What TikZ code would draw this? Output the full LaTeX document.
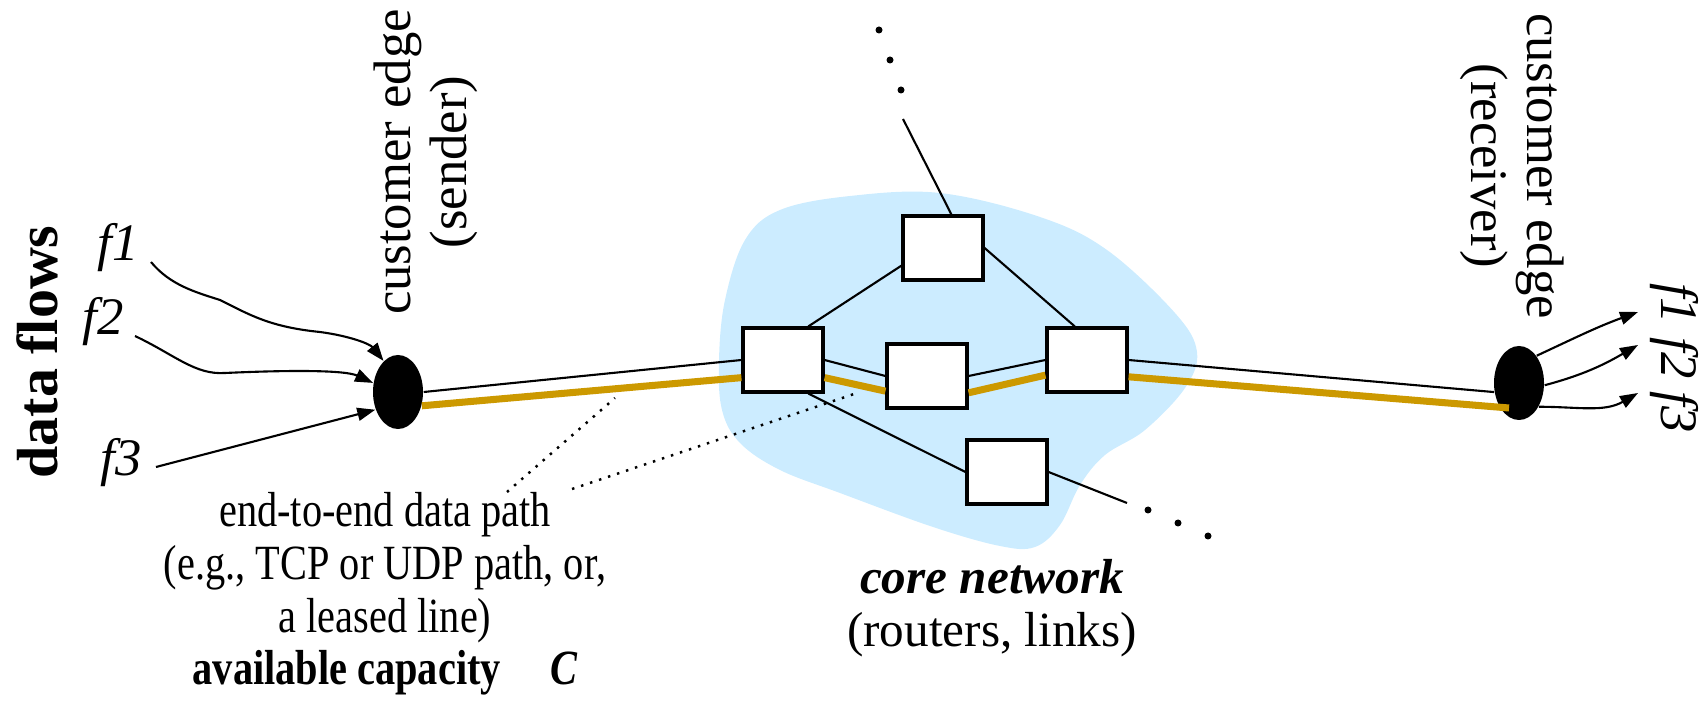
\documentclass[tikz,border=0pt]{standalone}
\usepackage{fontspec}
\setmainfont{Liberation Serif}
\newfontfamily\tallserif{Liberation Serif}[FakeStretch=0.82]
\usepackage{xcolor}
\usetikzlibrary{arrows.meta, shapes.geometric, calc}

\definecolor{coreblue}{RGB}{204,236,255}
\definecolor{pathgold}{RGB}{204,153,0}

\begin{document}
\begin{tikzpicture}[
    router/.style={draw, fill=white, line width=0.9pt, minimum width=0.8cm, minimum height=0.64cm, inner sep=0pt},
    edgenode/.style={ellipse, fill=black, minimum width=0.5cm, minimum height=0.74cm, inner sep=0pt},
    link/.style={line width=0.6pt},
    datapath/.style={pathgold, line width=2pt},
    flowarrow/.style={line width=0.6pt, -{Triangle[length=1.8mm, width=1.3mm]}},
    lbl/.style={font=\fontsize{15}{16}\selectfont, align=center},
    note/.style={font=\tallserif\fontsize{14}{15}\selectfont, align=center},
    flowlbl/.style={font=\fontsize{15}{16}\selectfont\itshape},
    moredot/.style={circle, fill=black, inner sep=0pt, minimum size=0.07cm}
]
    \useasboundingbox (0,0) rectangle (17.03,7.10);

    % Core network cloud
    \fill[coreblue] plot[smooth cycle, tension=0.6] coordinates {
        (9.33,1.83) (10.00,1.64) (10.35,1.63) (10.60,1.85) (10.80,2.25) (11.05,2.55)
        (11.45,2.80) (11.85,3.22) (11.97,3.58) (11.75,3.97) (11.07,4.60) (10.40,4.93)
        (9.40,5.17) (8.50,5.14) (7.80,5.00) (7.45,4.70) (7.25,4.10) (7.19,3.50)
        (7.22,3.00) (7.40,2.67) (7.80,2.40) (8.40,2.17)};

    % Routers
    \node[router] (A) at (7.83,3.50) {};
    \node[router] (T) at (9.43,4.62) {};
    \node[router] (M) at (9.27,3.34) {};
    \node[router] (R) at (10.87,3.50) {};
    \node[router] (B) at (10.07,2.38) {};

    % Customer edges
    \node[edgenode] (SE) at (3.98,3.18) {};
    \node[edgenode] (RE) at (15.19,3.27) {};

    % Links inside the core
    \coordinate (topend) at (9.03,5.91);
    \coordinate (botend) at (11.27,2.07);
    \draw[link] (A.53) -- (T.203);
    \draw[link] (T.east) -- (R.110);
    \draw[link] (T.76) -- (topend);
    \draw[link] (A.-53) -- (B.west);
    \draw[link] (B.east) -- (botend);
    \foreach \p in {(8.79,6.80), (8.90,6.50), (9.01,6.20), (11.48,2.00), (11.78,1.87), (12.08,1.74)}
        \node[moredot] at \p {};

    % End-to-end path
    \draw[link] (SE.east) -- (A.west);
    \draw[link] (A.east) -- (M.west);
    \draw[link] (M.east) -- (R.west);
    \draw[link] (R.east) -- (RE.200);
    \draw[datapath] (SE.-30) -- (A.203);
    \draw[datapath] (A.-23) -- (M.200);
    \draw[datapath] (M.-22) -- (R.200);
    \draw[datapath] (R.-22) -- ($(RE.center)+(-0.1,-0.25)$);

    % Incoming flows
    \node[font=\fontsize{16.5}{18}\selectfont\bfseries, rotate=90] (flows) at (0.37,3.58) {data flows};
    \node[flowlbl] (fin1) at (1.18,4.62) {f1};
    \node[flowlbl] (fin2) at (1.03,3.88) {f2};
    \node[flowlbl] (fin3) at (1.21,2.47) {f3};
    \draw[flowarrow] (1.51,4.48) .. controls (1.70,4.25) and (1.95,4.18) .. (2.20,4.10)
        .. controls (2.50,3.95) and (2.70,3.83) .. (3.20,3.78)
        .. controls (3.50,3.74) and (3.70,3.66) .. (SE.115);
    \draw[flowarrow] (1.35,3.74) .. controls (1.75,3.55) and (1.95,3.35) .. (2.25,3.37)
        .. controls (2.90,3.40) and (3.45,3.40) .. (SE.160);
    \draw[flowarrow] (1.56,2.43) -- (SE.218);

    % Outgoing flows
    \coordinate (o1) at (16.38,3.98);
    \coordinate (o2) at (16.38,3.65);
    \coordinate (o3) at (16.38,3.17);
    \draw[flowarrow] (RE.57) to[out=25, in=200] (o1);
    \draw[flowarrow] (RE.-5) to[out=15, in=210] (o2);
    \draw[flowarrow] (RE.-50) to[out=0, in=210] (o3);
    \node[flowlbl, rotate=-90] (fout) at (16.74,3.52) {f1 f2 f3};

    % Edge labels
    \node[lbl, rotate=90] (sendlbl) at (4.26,5.48) {customer edge\\(sender)};
    \node[lbl, rotate=-90] (recvlbl) at (15.12,5.44) {customer edge\\(receiver)};

    % Path and core labels
    \node[note] (pathlbl) at (3.85,1.16) {end-to-end data path\\(e.g., TCP or UDP path, or,\\a leased line)\\\textbf{available capacity\quad\textit{C}}};
    \node[font=\fontsize{14}{15}\selectfont, align=center] (corelbl) at (9.92,1.02) {\textbf{\textit{core network}}\\(routers, links)};
    \coordinate (p1) at (6.15,3.12);
    \coordinate (p2) at (8.57,3.17);
    \coordinate (d1) at (5.07,2.18);
    \coordinate (d2) at (5.72,2.21);
    \draw[dotted, line width=0.7pt] (d1) -- (p1);
    \draw[dotted, line width=0.7pt] (d2) -- (p2);
\end{tikzpicture}
\end{document}
